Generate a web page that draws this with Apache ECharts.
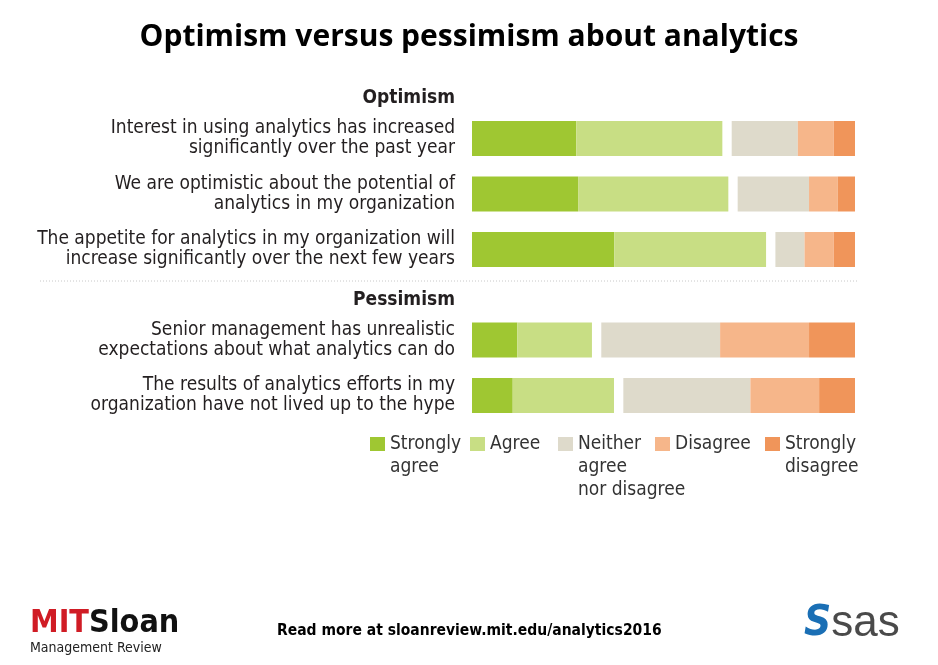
<!DOCTYPE html>
<html lang="en">

<head>
    <meta charset="UTF-8">
    <title>Optimism versus pessimism about analytics</title>
    <script src="https://cdn.jsdelivr.net/npm/echarts@6.0.0/dist/echarts.min.js"></script>
    <style>
        html, body { margin: 0; padding: 0; background: #fff; }
    </style>
</head>

<body>
    <div id="myChart" style="width: 938px; height: 665px;"></div>
    <script>
        // survey questions, split in two blocks
        const optimismQuestions = [
            'Interest in using analytics has increased\nsignificantly over the past year',
            'We are optimistic about the potential of\nanalytics in my organization',
            'The appetite for analytics in my organization will\nincrease significantly over the next few years'
        ];
        const pessimismQuestions = [
            'Senior management has unrealistic\nexpectations about what analytics can do',
            'The results of analytics efforts in my\norganization have not lived up to the hype'
        ];

        // % of respondents, optimism rows then pessimism rows
        const stronglyAgree = [27.9, 28.4, 38.1, 12.1, 10.9];
        const agree = [39.1, 40.2, 40.6, 20.0, 27.1];
        const neither = [17.7, 19.1, 7.8, 31.8, 34.0];
        const disagree = [9.6, 7.7, 7.8, 23.8, 18.4];
        const stronglyDisagree = [5.8, 4.6, 5.8, 12.3, 9.6];

        const seriesNames = ['Strongly agree', 'Agree', 'Neither agree nor disagree', 'Disagree', 'Strongly disagree'];
        const legendLabels = ['Strongly\nagree', 'Agree', 'Neither\nagree\nnor disagree', 'Disagree', 'Strongly\ndisagree'];
        const colors = ['#9fc732', '#c8de84', '#dedacb', '#f6b68a', '#f0955a'];

        const gapWidth = 2.5; // white space between agree and neutral
        const FONT = "'Liberation Sans Narrow', 'DejaVu Sans Condensed', sans-serif";

        const myChart = echarts.init(document.getElementById('myChart'));

        const allValues = [stronglyAgree, agree, neither, disagree, stronglyDisagree];

        function buildSeries(gridIdx, from, to) {
            const list = [];
            allValues.forEach((vals, i) => {
                list.push({
                    name: seriesNames[i],
                    type: 'bar',
                    stack: 'total' + gridIdx,
                    xAxisIndex: gridIdx,
                    yAxisIndex: gridIdx,
                    barWidth: 35,
                    itemStyle: { color: colors[i] },
                    data: vals.slice(from, to)
                });
                if (i === 1) {
                    // spacer
                    list.push({
                        name: 'gap',
                        type: 'bar',
                        stack: 'total' + gridIdx,
                        xAxisIndex: gridIdx,
                        yAxisIndex: gridIdx,
                        barWidth: 35,
                        silent: true,
                        itemStyle: { color: 'rgba(0,0,0,0)' },
                        data: vals.slice(from, to).map(() => gapWidth)
                    });
                }
            });
            return list;
        }

        // one legend per item so the wrapped labels hang below the swatch
        const legendLeft = [370, 470, 558, 655, 765];
        const LH = 23;
        const legends = seriesNames.map((name, i) => {
            const lines = legendLabels[i].split('\n').length;
            const blank = '\n'.repeat(lines - 1); // pushes first line level with the swatch
            return {
                data: [name],
                left: legendLeft[i],
                top: 437 + 7 - (2 * lines - 1) * LH / 2,
                padding: 0,
                itemWidth: 15,
                itemHeight: 14,
                icon: 'rect',
                selectedMode: false,
                formatter: () => blank + legendLabels[i],
                textStyle: {
                    fontFamily: FONT,
                    fontSize: 19,
                    color: '#333',
                    lineHeight: LH
                }
            };
        });

        const axisLabel = {
            fontFamily: FONT,
            fontSize: 19,
            lineHeight: 20,
            color: '#231f20',
            align: 'right',
            margin: 17
        };

        const option = {
            animation: false,
            backgroundColor: '#fff',
            title: [{
                text: 'Optimism versus pessimism about analytics',
                left: 'center',
                top: 17,
                textStyle: { fontFamily: "'Open Sans', sans-serif", fontSize: 30, fontWeight: 'bold', color: '#000' }
            }, {
                text: 'Read more at sloanreview.mit.edu/analytics2016',
                left: 272,
                top: 618,
                textStyle: { fontFamily: FONT, fontSize: 15.5, fontWeight: 'bold', color: '#000' }
            }],
            legend: legends,
            grid: [
                { left: 472, right: 83, top: 110.75, height: 166.5 },
                { left: 472, right: 83, top: 312.25, height: 111 }
            ],
            xAxis: [0, 1].map(g => ({
                type: 'value', gridIndex: g, min: 0, max: 100 + gapWidth,
                show: false
            })),
            yAxis: [
                {
                    type: 'category', gridIndex: 0, inverse: true, data: optimismQuestions,
                    axisLine: { show: false }, axisTick: { show: false }, axisLabel: axisLabel
                },
                {
                    type: 'category', gridIndex: 1, inverse: true, data: pessimismQuestions,
                    axisLine: { show: false }, axisTick: { show: false }, axisLabel: axisLabel
                }
            ],
            series: buildSeries(0, 0, 3).concat(buildSeries(1, 3, 5)),
            graphic: [
                {
                    type: 'text', right: 938 - 455, top: 89,
                    style: { text: 'Optimism', font: "bold 19px " + FONT, fill: '#231f20' }
                },
                {
                    type: 'text', right: 938 - 455, top: 291,
                    style: { text: 'Pessimism', font: "bold 19px " + FONT, fill: '#231f20' }
                },
                {
                    type: 'line',
                    shape: { x1: 40, y1: 281, x2: 858, y2: 281 },
                    style: { stroke: '#c8c8c8', lineWidth: 1, lineDash: [1, 2] }
                },
                {
                    type: 'text', left: 30, top: 608,
                    style: {
                        text: '{m|MIT}{s|Sloan}\n{r|Management Review}',
                        rich: {
                            m: { font: "bold 32px " + FONT, fill: '#d01c25', lineHeight: 31 },
                            s: { font: "bold 32px " + FONT, fill: '#111', lineHeight: 31 },
                            r: { font: "14px " + FONT, fill: '#222', lineHeight: 17 }
                        }
                    }
                },
                {
                    type: 'text', left: 804, top: 602,
                    style: {
                        text: '{i|S}{t|sas}',
                        rich: {
                            i: { font: "italic bold 42px " + FONT, fill: '#1a6fb5' },
                            t: { font: "44px 'Liberation Sans', sans-serif", fill: '#4a4a4a' }
                        }
                    }
                }
            ]
        };
        myChart.setOption(option);
    </script>
</body>

</html>
